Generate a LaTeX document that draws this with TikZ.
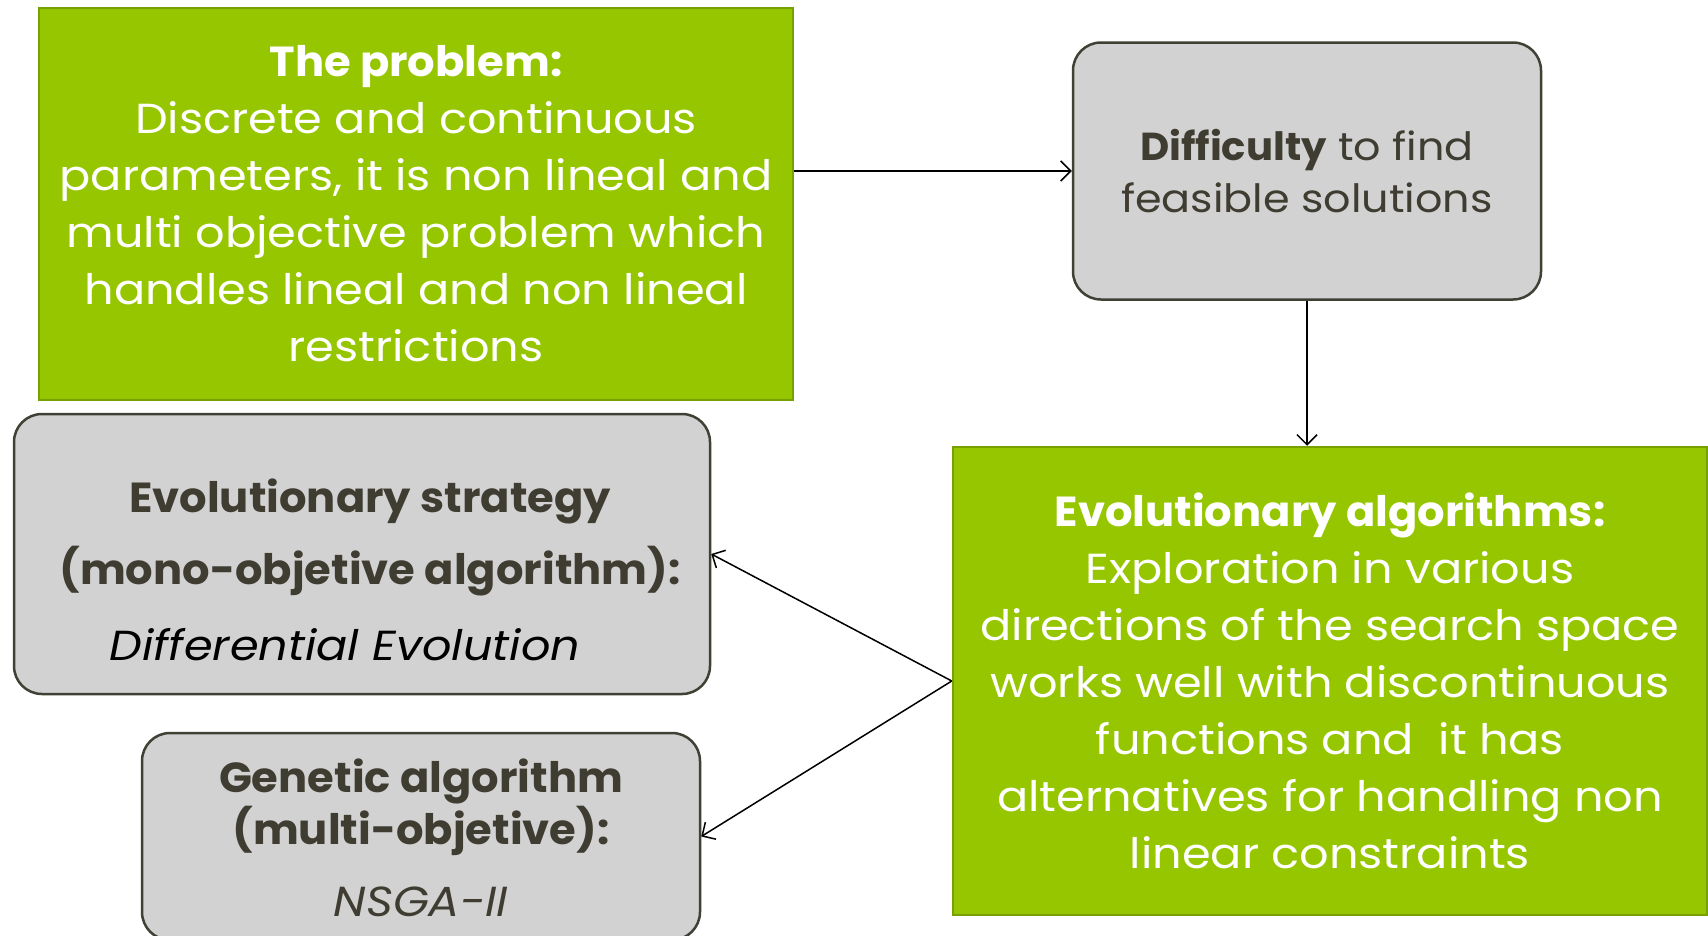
\documentclass[tikz,border=0pt]{standalone}
\usepackage{fontspec}
\setmainfont{Poppins}[FakeStretch=1.1, BoldFeatures={FakeStretch=1.03}]
\usetikzlibrary{arrows.meta,calc}
\definecolor{grn}{HTML}{95C600}
\definecolor{grnb}{HTML}{78A000}
\definecolor{gry}{HTML}{D2D2D2}
\definecolor{gryb}{HTML}{414034}
\definecolor{txt}{HTML}{3F3D31}
\begin{document}
\begin{tikzpicture}[x=1pt,y=1pt,
  greenbox/.style={draw=grnb, fill=grn, line width=2.5pt, inner sep=0pt, text=white, align=center},
  graybox/.style={draw=gryb, fill=gry, line width=2.5pt, rounded corners=28pt, inner sep=0pt, text=txt, align=center},
  arr/.style={-{Straight Barb[length=10pt,width=20pt]}, line width=1.5pt, black},
  bigtxt/.style={font=\fontsize{42}{57}\selectfont},
  midtxt/.style={font=\fontsize{39}{52}\selectfont}]
\useasboundingbox (0,0) rectangle (1708,-935);

\node[greenbox, bigtxt, minimum width=754pt, minimum height=392pt] (pb) at (416,-204)
  {\textbf{The problem:}\\Discrete and continuous\\parameters, it is non lineal and\\multi objective problem which\\handles lineal and non lineal\\restrictions};

\node[graybox, midtxt, minimum width=468pt, minimum height=257pt] (df) at (1307,-171)
  {\textbf{Difficulty} to find\\feasible solutions};

\node[graybox, minimum width=696pt, minimum height=280pt] (es) at (362,-554) {};
\node[text=txt, align=center, bigtxt] (est) at (370,-570)
  {\textbf{Evolutionary strategy}\\[15pt]\textbf{(mono-objetive algorithm):}\\[19pt]{\color{black}\itshape Differential Evolution}\hspace*{50pt}};

\node[graybox, minimum width=558pt, minimum height=207pt] (ge) at (421,-836.5) {};
\node[text=txt, align=center, font=\fontsize{42}{52}\selectfont] (get) at (421,-838)
  {\textbf{Genetic algorithm}\\\textbf{(multi-objetive):}\\[20pt]{\itshape NSGA-II}};

\node[greenbox, bigtxt, minimum width=754pt, minimum height=468pt] (ea) at (1330,-681)
  {\textbf{Evolutionary algorithms:}\\Exploration in various\\directions of the search space\\works well with discontinuous\\functions and\ \ it has\\alternatives for handling non\\linear constraints};

\draw[arr] (pb.east |- df.west) -- (df.west);
\draw[arr] (df.south) -- (df.south |- ea.north);
\draw[arr] (ea.west) -- (es.east);
\draw[arr] (ea.west) -- (ge.east);
\end{tikzpicture}
\end{document}
